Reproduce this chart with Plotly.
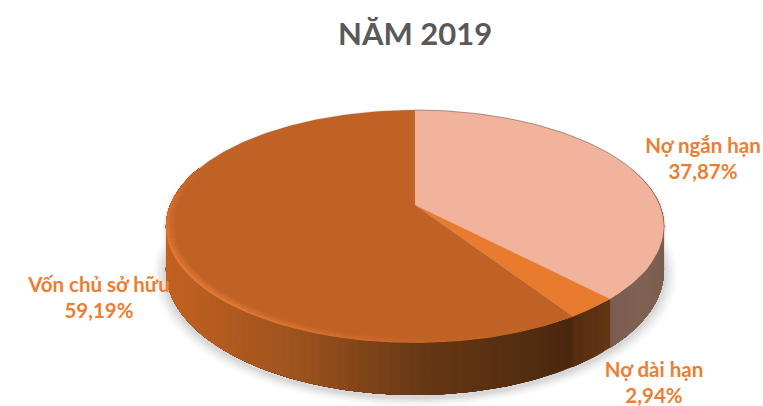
import numpy as np
import plotly.graph_objects as go

# Capital structure for 2019, percent of total, clockwise from 12 o'clock
categories = ["Nợ ngắn hạn", "Nợ dài hạn", "Vốn chủ sở hữu"]
shares = [37.87, 2.94, 59.19]
chart_title = "NĂM 2019"

top_colors = ["#f2b39c", "#e97b2e", "#c06226"]
text_color = "#ed7d31"
title_color = "#595959"
# Wall colour stops per slice: (screen x, rgb)
wall_stops = [
    [(600, (118, 90, 78)), (640, (128, 98, 84)), (670, (120, 92, 78))],
    [(570, (84, 45, 15)), (612, (100, 54, 20))],
    [(160, (196, 98, 32)), (300, (156, 82, 30)), (420, (104, 56, 20)), (570, (74, 40, 14))],
]
label_pos = [(703, 161), (654, 385), (99, 300)]

# Tilted-disc projection: apex on screen, half-width, half-depth, perspective, wall height
CX, CY, A, B, K, D = 415.0, 205.0, 244.8, 112.5, 0.1846, 42.4


def project(deg, r=1.0, drop=0.0):
    t = np.radians(deg)
    u, v = r * np.sin(t), -r * np.cos(t)
    w = 1 - K * v
    return CX + A * u / w, CY + (B * v + drop) / w


def shade(stops, x):
    xs = [s[0] for s in stops]
    return tuple(np.interp(x, xs, [s[1][i] for s in stops]) for i in range(3))


def rgb(c):
    r, g, b = (int(round(v)) for v in c)
    return f"rgb({r},{g},{b})"


def poly(fig, xs, ys, color):
    fig.add_trace(go.Scatter(
        x=list(xs), y=list(ys), mode="lines", fill="toself", fillcolor=color,
        line=dict(color="rgba(0,0,0,0)", width=0),
        hoverinfo="skip", showlegend=False,
    ))


edges = np.concatenate([[0], np.cumsum(shares)]) * 3.6
fig = go.Figure()

# Soft contact shadow under the disc
ring = np.linspace(0, 360, 181)
for grow, alpha in zip([1.05, 1.04, 1.03, 1.02, 1.01], [0.03, 0.04, 0.05, 0.06, 0.08]):
    x, y = project(ring, grow, D + 2)
    poly(fig, x, y, f"rgba(90,90,90,{alpha})")
for grow, alpha in zip([1.012, 1.006], [0.05, 0.08]):
    x, y = project(ring, grow, 0)
    poly(fig, x, y, f"rgba(90,90,90,{alpha})")

# Outer wall: each strip runs to the end of its slice and the next one paints over it,
# so no seams show between neighbours
for i in range(3):
    lo, hi = max(edges[i], 70), min(edges[i + 1], 290)
    for a0 in np.arange(lo, hi, 2.0):
        seg = np.linspace(a0, hi, max(int(hi - a0), 2) + 1)
        xt, yt = project(seg)
        xb, yb = project(seg[::-1], 1.0, D)
        x_here = float(project(np.array([a0 + 1.0]))[0][0])
        poly(fig, np.r_[xt, xb], np.r_[yt, yb], rgb(shade(wall_stops[i], x_here)))

# Top faces
for i in range(3):
    arc = np.linspace(edges[i], edges[i + 1], max(int(edges[i + 1] - edges[i]), 4) + 1)
    x, y = project(arc)
    poly(fig, np.r_[CX, x, CX], np.r_[CY, y, CY], top_colors[i])

# Bevel highlight along the rim, strongest on the front-left and fading either way
for a0 in np.arange(150, 292, 2.0):
    mid = a0 + 1.0
    strength = np.exp(-((mid - 232) / 42.0) ** 2)
    seg = np.array([a0, a0 + 2.0])
    for rin, weight in [(0.968, 0.22), (0.978, 0.3), (0.988, 0.4), (0.995, 0.4)]:
        xo, yo = project(seg, 1.0)
        xi, yi = project(seg[::-1], rin)
        poly(fig, np.r_[xo, xi], np.r_[yo, yi], f"rgba(238,130,60,{strength * weight:.3f})")

# Thin dark line on the far edge of the light slice
arc = np.linspace(0, 118, 80)
x, y = project(arc, 1.0)
fig.add_trace(go.Scatter(x=x, y=y, mode="lines", line=dict(color="rgba(110,90,80,0.55)", width=1),
                         hoverinfo="skip", showlegend=False))

# Data labels built from the same shares that size the slices
labels = [f"{n}<br>{str(f'{v:.2f}').replace('.', ',')}%" for n, v in zip(categories, shares)]
fig.add_trace(go.Scatter(
    x=[p[0] for p in label_pos], y=[p[1] for p in label_pos], mode="text", text=labels,
    textposition="middle center", hoverinfo="skip", showlegend=False,
    textfont=dict(family="Lato", size=20.5, color=text_color, weight="bold"),
))

fig.update_layout(
    width=763, height=406, margin=dict(l=0, r=0, t=0, b=0),
    paper_bgcolor="white", plot_bgcolor="white", showlegend=False,
    xaxis=dict(range=[0, 763], visible=False, fixedrange=True),
    yaxis=dict(range=[406, 0], visible=False, fixedrange=True),
    annotations=[dict(text=chart_title, x=415, y=33, xref="x", yref="y", showarrow=False,
                      font=dict(family="Lato", size=31, color=title_color, weight="bold"))],
)
fig.write_html("out.html", config={"displayModeBar": False})
